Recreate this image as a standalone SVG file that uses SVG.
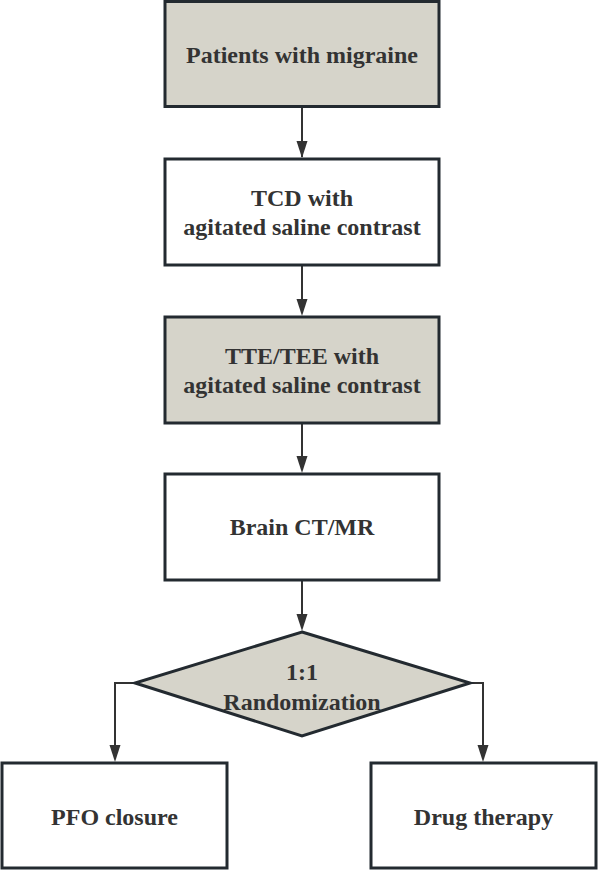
<svg xmlns="http://www.w3.org/2000/svg" width="598" height="870" viewBox="0 0 598 870">
<defs>
<style>
.box{stroke:#232a30;stroke-width:3;}
.g{fill:#d6d4ca;}
.w{fill:#ffffff;}
.t{font-family:"Liberation Serif","Times New Roman",serif;font-weight:bold;font-size:24px;fill:#333333;text-anchor:middle;}
.c{fill:none;stroke:#333333;stroke-width:2;}
</style>
<marker id="ah" markerUnits="userSpaceOnUse" markerWidth="12" markerHeight="18" refX="6" refY="17" orient="auto-start-reverse" viewBox="0 0 12 18">
<path d="M0.5,0 L11.5,0 L6,17 Z" fill="#333333" transform="rotate(0)"/>
</marker>
</defs>
<rect width="598" height="870" fill="#ffffff"/>
<g id="connectors">
<line class="c" x1="302" y1="107" x2="302" y2="157"/>
<path class="c" d="M302,107 V141"/>
<path d="M296.5,141 L307.5,141 L302,158 Z" fill="#333333"/>
<path class="c" d="M302,265 V299"/>
<path d="M296.5,299 L307.5,299 L302,316 Z" fill="#333333"/>
<path class="c" d="M302,423 V456"/>
<path d="M296.5,456 L307.5,456 L302,473 Z" fill="#333333"/>
<path class="c" d="M302,580 V614"/>
<path d="M296.5,614 L307.5,614 L302,631 Z" fill="#333333"/>
<path class="c" d="M135,683 H115 V745"/>
<path d="M109.5,745 L120.5,745 L115,762 Z" fill="#333333"/>
<path class="c" d="M470,683 H483 V745"/>
<path d="M477.5,745 L488.5,745 L483,762 Z" fill="#333333"/>
</g>
<g id="n1">
<rect class="box g" x="165" y="1.5" width="274" height="105"/>
<text class="t" x="302" y="63">Patients with migraine</text>
</g>
<g id="n2">
<rect class="box w" x="165" y="159" width="274" height="106"/>
<text class="t" x="302" y="206">TCD with</text>
<text class="t" x="302" y="235">agitated saline contrast</text>
</g>
<g id="n3">
<rect class="box g" x="165" y="317" width="274" height="106"/>
<text class="t" x="302" y="364">TTE/TEE with</text>
<text class="t" x="302" y="393">agitated saline contrast</text>
</g>
<g id="n4">
<rect class="box w" x="165" y="474" width="274" height="106"/>
<text class="t" x="302" y="535">Brain CT/MR</text>
</g>
<g id="n5">
<polygon class="box g" points="302,632 470,683 302,736 135,683"/>
<text class="t" x="302" y="680">1:1</text>
<text class="t" x="302" y="710">Randomization</text>
</g>
<g id="n6">
<rect class="box w" x="2" y="763" width="225" height="105"/>
<text class="t" x="114.5" y="825">PFO closure</text>
</g>
<g id="n7">
<rect class="box w" x="371" y="763" width="225" height="105"/>
<text class="t" x="483.5" y="825">Drug therapy</text>
</g>
</svg>
